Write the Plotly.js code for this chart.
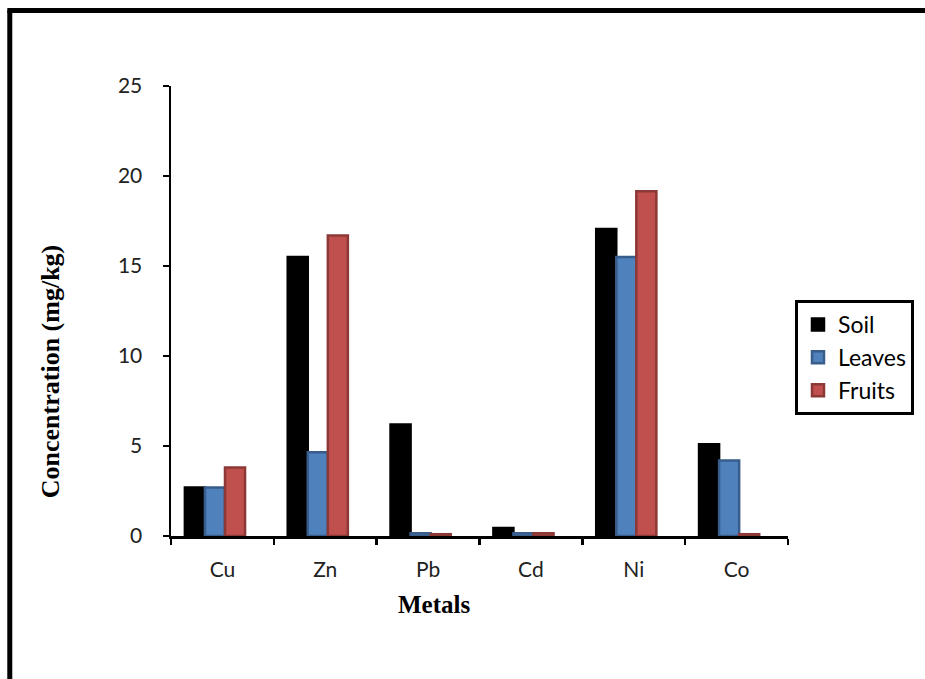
<!DOCTYPE html>
<html>
<head>
<meta charset="utf-8">
<script src="https://cdn.plot.ly/plotly-3.0.1.min.js"></script>
<style>
html,body{margin:0;padding:0;background:#fff;overflow:hidden;}
#chart{width:925px;height:679px;}
</style>
</head>
<body>
<div id="chart"></div>
<script>
const metals = ["Cu", "Zn", "Pb", "Cd", "Ni", "Co"];
const soil   = [2.7, 15.5, 6.2, 0.45, 17.05, 5.1];
const leaves = [2.7, 4.65, 0.15, 0.15, 15.5, 4.2];
const fruits = [3.8, 16.7, 0.1, 0.15, 19.15, 0.1];
const yTicks = [0, 5, 10, 15, 20, 25];

const sansFont = "Lato, 'Open Sans', 'Liberation Sans', sans-serif";
const serifFont = "'Liberation Serif', 'DejaVu Serif', serif";

const barW = 0.195;
const traces = [
  {type: "bar", name: "Soil", x: metals, y: soil, width: barW, offset: -0.365,
   marker: {color: "#000000", line: {color: "#000000", width: 2.5}}},
  {type: "bar", name: "Leaves", x: metals, y: leaves, width: barW, offset: -0.17,
   marker: {color: "#4F81BD", line: {color: "#385D8A", width: 2.5}}},
  {type: "bar", name: "Fruits", x: metals, y: fruits, width: barW, offset: 0.025,
   marker: {color: "#C0504D", line: {color: "#8C3836", width: 2.5}}}
];

const layout = {
  width: 925, height: 679,
  margin: {l: 171, r: 136, t: 86, b: 143},
  paper_bgcolor: "#ffffff", plot_bgcolor: "#ffffff",
  barmode: "group", bargap: 0.42, bargroupgap: 0,
  showlegend: true,
  font: {family: sansFont, color: "#222", size: 21},
  xaxis: {
    type: "category",
    showline: true, linecolor: "#000", linewidth: 2.5,
    ticks: "outside", tickson: "boundaries", ticklen: 6, tickwidth: 2.5, tickcolor: "#000",
    ticklabelstandoff: 13,
    tickfont: {family: sansFont, size: 21, color: "#222"},
    showgrid: false, zeroline: false, fixedrange: true
  },
  yaxis: {
    range: [0, 25], tickvals: yTicks, ticktext: yTicks.map(String),
    showline: true, linecolor: "#000", linewidth: 2.5,
    ticks: "outside", ticklen: 6, tickwidth: 2.5, tickcolor: "#000",
    ticklabelstandoff: 16,
    tickfont: {family: sansFont, size: 21, color: "#222"},
    showgrid: false, zeroline: false, fixedrange: true
  },
  legend: {
    x: 1.0097, y: 0.5244, xanchor: "left", yanchor: "top",
    bordercolor: "#000", borderwidth: 3, bgcolor: "#fff",
    font: {family: sansFont, size: 23, color: "#000"},
    tracegroupgap: 0, itemwidth: 30
  },
  annotations: [
    {text: "Concentration (mg/kg)", xref: "paper", yref: "paper",
     x: -0.1958, y: 0.3644, xanchor: "center", yanchor: "middle",
     textangle: -90, showarrow: false,
     font: {family: serifFont, size: 26, color: "#000", weight: "bold"}},
    {text: "Metals", xref: "paper", yref: "paper",
     x: 0.4256, y: -0.1533, xanchor: "center", yanchor: "middle",
     showarrow: false,
     font: {family: serifFont, size: 25, color: "#000", weight: "bold"}}
  ],
  shapes: [
    {type: "line", xref: "paper", yref: "paper",
     x0: -0.2613, x1: -0.2613, y0: -0.4, y1: 1.1678,
     line: {color: "#000", width: 5}, layer: "below"},
    {type: "line", xref: "paper", yref: "paper",
     x0: -0.2653, x1: 1.3, y0: 1.1678, y1: 1.1678,
     line: {color: "#000", width: 5}, layer: "below"}
  ]
};

Plotly.newPlot("chart", traces, layout, {displayModeBar: false, staticPlot: true});
</script>
</body>
</html>
